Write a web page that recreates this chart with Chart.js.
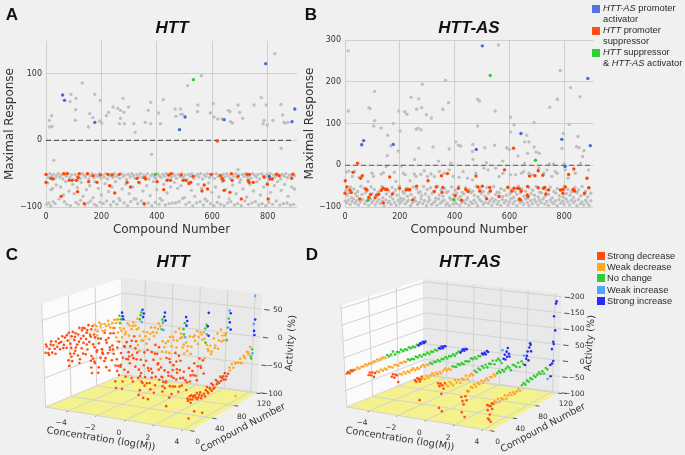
<!DOCTYPE html>
<html>
<head>
<meta charset="utf-8">
<script src="https://cdn.jsdelivr.net/npm/chart.js@4"></script>
<style>
body { margin: 0; background: #f0f0f0; width: 685px; height: 455px; overflow: hidden; position: relative; font-family: "Liberation Sans", sans-serif; color: #222; }
canvas { position: absolute; }
.letter { position: absolute; font-weight: bold; font-size: 17px; transform: translate(-50%, -50%); color: #111; }
.title { position: absolute; font-weight: bold; font-style: italic; font-size: 17px; transform: translate(-50%, -50%); white-space: nowrap; color: #111; }
.legend { position: absolute; font-size: 9.3px; line-height: 11.1px; white-space: nowrap; color: #2a2a2a; }
.patch { position: absolute; width: 8px; height: 8px; }
</style>
</head>
<body>
<canvas id="a" width="300" height="237" style="left:0;top:0"></canvas>
<canvas id="b" width="295" height="237" style="left:300px;top:0"></canvas>
<canvas id="c" width="330" height="215" style="left:0;top:240px"></canvas>
<canvas id="d" width="270" height="215" style="left:330px;top:240px"></canvas>
<script>
"use strict";
// panel A, [compound, max response]
var grayA = [[12,30],[13,20],[22,21],[20,37],[28,-30],[90,69],[87,58],[108,63],[107,46],[106,30],[131,86],[176,69],[158,40],[169,34],[153,20],[196,60],[194,29],[201,26],[218,37],[226,42],[242,50],[259,48],[269,45],[278,63],[281,42],[269,33],[265,25],[283,25],[298,50],[317,25],[322,12],[358,27],[369,45],[378,57],[378,25],[381,-21],[406,41],[413,25],[423,61],[466,47],[469,36],[486,47],[487,39],[493,39],[511,82],[548,53],[547,43],[561,97],[593,41],[604,55],[606,35],[620,32],[635,32],[658,45],[664,43],[666,28],[673,26],[693,53],[699,42],[710,33],[751,53],[777,64],[787,30],[784,25],[795,53],[799,23],[819,30],[826,130],[848,54],[854,38],[849,-12],[859,27],[863,26],[873,27],[693,-44],
[3,-52],[9,-56],[14,-50],[20,-54],[27,-51],[33,-57],[38,-53],[44,-50],[50,-55],[56,-52],[61,-58],[68,-51],[73,-54],[80,-50],[86,-56],[92,-52],[99,-59],[105,-51],[111,-54],[118,-53],[124,-57],[130,-50],[136,-52],[142,-55],[148,-51],[155,-58],[160,-53],[166,-50],[173,-56],[179,-52],[186,-54],[192,-50],[198,-57],[204,-52],[210,-55],[216,-50],[222,-58],[229,-53],[235,-51],[241,-56],[247,-50],[254,-54],[260,-52],[266,-57],[272,-50],[279,-54],[285,-52],[291,-59],[297,-51],[304,-55],[310,-50],[316,-53],[322,-57],[328,-51],[335,-54],[341,-50],[347,-56],[353,-52],[360,-54],[366,-50],[372,-58],[378,-53],[384,-51],[391,-55],[397,-57],[403,-50],[409,-53],[415,-56],[422,-51],[428,-54],[434,-50],[440,-58],[446,-52],[453,-55],[459,-50],[465,-53],[471,-57],[477,-51],[484,-54],[490,-50],[496,-56],[502,-52],[509,-59],[515,-51],[521,-54],[527,-50],[533,-57],[540,-53],[546,-51],[552,-55],[558,-50],[565,-58],[571,-52],[577,-54],[583,-50],[590,-56],[596,-53],[602,-51],[608,-57],[615,-50],[621,-54],[627,-52],[633,-58],[640,-51],[646,-55],[652,-50],[658,-53],[665,-57],[671,-51],[677,-54],[684,-50],[690,-56],[696,-52],[702,-59],[709,-51],[715,-54],[721,-50],[727,-55],[734,-53],[740,-57],[746,-50],[752,-52],[759,-55],[765,-51],[771,-58],[778,-50],[784,-53],[790,-56],[797,-51],[803,-54],[809,-50],[815,-57],[822,-52],[828,-55],[834,-50],[841,-53],[847,-58],[853,-51],[860,-54],[866,-50],[872,-56],[879,-52],[885,-55],[892,-50],[898,-53],
[6,-64],[18,-74],[24,-72],[37,-67],[47,-88],[53,-70],[63,-82],[71,-62],[83,-76],[96,-66],[102,-80],[113,-71],[127,-63],[134,-84],[146,-74],[158,-68],[170,-86],[177,-62],[189,-72],[200,-82],[213,-65],[226,-77],[238,-70],[251,-62],[263,-87],[275,-73],[288,-66],[300,-80],[313,-70],[325,-88],[338,-64],[350,-76],[363,-68],[376,-83],[388,-62],[400,-74],[412,-87],[425,-66],[437,-79],[450,-70],[463,-63],[475,-72],[487,-68],[499,-86],[512,-62],[525,-75],[537,-84],[549,-66],[562,-72],[574,-88],[587,-64],[599,-78],[612,-70],[624,-85],[637,-62],[649,-74],[661,-88],[674,-67],[686,-80],[699,-63],[711,-73],[724,-85],[736,-66],[749,-76],[761,-62],[774,-82],[786,-70],[799,-64],[811,-78],[824,-68],[836,-62],[849,-75],[861,-66],[874,-84],[887,-70],[897,-73],
[2,-96],[10,-94],[17,-98],[26,-92],[33,-95],[66,-92],[75,-96],[88,-98],[108,-93],[117,-96],[125,-90],[141,-97],[152,-94],[161,-91],[174,-96],[183,-98],[195,-93],[207,-95],[219,-91],[233,-97],[244,-92],[256,-96],[267,-90],[282,-94],[294,-98],[306,-92],[318,-88],[331,-95],[344,-91],[356,-97],[369,-94],[382,-98],[395,-93],[408,-96],[419,-90],[431,-97],[444,-95],[456,-94],[468,-94],[480,-92],[493,-87],[505,-96],[517,-93],[530,-98],[543,-94],[556,-92],[568,-97],[581,-91],[594,-95],[606,-98],[618,-93],[630,-96],[643,-98],[655,-94],[667,-92],[680,-97],[692,-95],[705,-98],[718,-91],[730,-96],[743,-94],[756,-92],[768,-97],[780,-95],[793,-98],[805,-93],[818,-96],[831,-91],[844,-97],[857,-95],[870,-94],[882,-97],[894,-96]];
var blueA = [[60,68],[67,60],[176,27],[482,16],[502,35],[643,31],[793,115],[888,28],[898,47],[806,-54]];
var greenA = [[532,91],[395,-51]];
var redA = [[618,-1],[0,-51],[0,-63],[18,-57],[25,-58],[64,-50],[76,-50],[84,-60],[94,-60],[110,-60],[120,-50],[116,-56],[114,-77],[55,-84],[138,-95],[150,-50],[154,-62],[170,-53],[196,-52],[184,-63],[224,-51],[230,-68],[239,-52],[248,-79],[265,-51],[293,-63],[305,-70],[329,-57],[335,-63],[355,-56],[360,-58],[354,-95],[401,-62],[425,-74],[443,-52],[452,-50],[437,-60],[449,-60],[488,-52],[495,-60],[504,-60],[516,-65],[522,-63],[531,-54],[563,-76],[571,-67],[583,-73],[596,-51],[630,-53],[636,-57],[640,-60],[643,-75],[664,-78],[669,-50],[672,-60],[705,-88],[693,-54],[726,-51],[734,-51],[730,-60],[733,-63],[748,-63],[787,-55],[799,-66],[802,-88],[808,-58],[817,-58],[832,-51],[842,-53],[887,-57],[891,-51]];

// panel B
var grayB = [[12,274],[12,130],[108,177],[87,138],[91,136],[108,107],[105,94],[132,89],[156,72],[154,23],[176,100],[196,130],[201,82],[194,34],[167,46],[218,128],[226,122],[241,163],[269,159],[261,134],[280,138],[282,194],[260,86],[266,89],[277,85],[269,41],[297,121],[315,113],[321,44],[254,14],[341,10],[357,134],[367,203],[378,150],[380,39],[386,5],[404,56],[414,48],[422,46],[466,50],[465,33],[467,14],[484,158],[490,154],[484,94],[510,42],[516,6],[560,288],[548,130],[546,48],[576,10],[590,42],[599,38],[604,115],[617,97],[604,80],[631,22],[655,5],[663,72],[656,56],[671,56],[666,29],[690,102],[690,44],[697,32],[708,29],[747,139],[785,227],[775,158],[797,76],[792,40],[818,98],[823,186],[850,69],[845,45],[854,42],[858,164],[867,21],[872,35],[860,5],[800,4],[746,3],[761,3],
[5,-16],[14,-14],[27,-27],[35,-15],[51,-29],[84,-39],[99,-19],[104,-27],[132,-21],[140,-18],[150,-3],[180,-17],[186,-39],[205,-2],[213,-19],[220,-23],[237,-37],[253,-21],[259,-27],[277,-22],[289,-13],[301,-27],[314,-21],[326,-27],[344,-15],[362,-19],[380,-11],[395,-27],[416,-29],[431,-15],[447,-31],[465,-35],[477,-19],[507,-7],[522,-11],[550,-7],[562,-27],[576,-19],[604,-23],[622,-23],[644,-19],[652,-15],[671,-19],[683,-23],[707,-7],[725,-19],[737,-11],[755,-27],[767,-15],[774,-19],[804,-11],[814,-31],[840,-19],[889,-11],
[4,-60],[20,-52],[32,-57],[46,-63],[58,-50],[70,-55],[81,-61],[95,-52],[107,-58],[121,-64],[134,-51],[147,-56],[160,-62],[172,-53],[185,-59],[198,-50],[211,-63],[224,-55],[236,-60],[249,-52],[262,-57],[275,-64],[287,-51],[300,-58],[312,-54],[325,-62],[338,-50],[351,-59],[363,-56],[376,-63],[389,-52],[402,-60],[415,-51],[428,-65],[440,-54],[453,-58],[466,-62],[479,-50],[492,-57],[505,-63],[518,-53],[531,-59],[543,-51],[556,-64],[569,-56],[582,-60],[595,-52],[608,-58],[621,-63],[633,-50],[646,-57],[659,-62],[672,-54],[685,-60],[698,-51],[710,-65],[723,-55],[736,-59],[749,-52],[762,-63],[775,-56],[788,-60],[800,-50],[813,-58],[826,-64],[839,-53],[852,-59],[865,-51],[878,-62],[892,-54],
[8,-72],[15,-66],[24,-78],[38,-68],[44,-74],[62,-70],[75,-66],[88,-77],[99,-68],[113,-73],[125,-67],[138,-78],[151,-69],[165,-75],[177,-66],[190,-72],[203,-79],[216,-67],[228,-74],[241,-70],[254,-78],[268,-66],[279,-73],[293,-69],[306,-76],[318,-67],[331,-79],[344,-71],[357,-74],[370,-66],[382,-78],[395,-70],[408,-67],[421,-75],[434,-69],[447,-78],[459,-66],[472,-72],[485,-76],[498,-68],[511,-74],[524,-67],[537,-79],[550,-70],[563,-66],[575,-75],[589,-72],[602,-68],[615,-77],[627,-70],[640,-66],[653,-74],[666,-79],[679,-68],[692,-72],[705,-76],[717,-66],[730,-74],[743,-70],[756,-78],[769,-67],[782,-73],[795,-76],[808,-68],[821,-72],[834,-78],[847,-66],[860,-73],[873,-70],[886,-76],[897,-67],
[1,-86],[7,-90],[13,-83],[19,-94],[26,-87],[31,-81],[37,-91],[43,-85],[49,-95],[56,-88],[64,-82],[72,-92],[78,-86],[86,-96],[92,-81],[97,-90],[103,-85],[110,-95],[117,-88],[123,-82],[129,-92],[136,-86],[143,-97],[149,-83],[156,-90],[162,-87],[168,-94],[175,-81],[181,-89],[187,-96],[194,-84],[200,-91],[207,-86],[214,-81],[219,-93],[226,-88],[232,-84],[239,-97],[246,-90],[251,-82],[258,-86],[265,-94],[271,-89],[278,-81],[284,-92],[290,-85],[297,-97],[303,-88],[309,-83],[316,-94],[322,-90],[329,-86],[336,-96],[342,-81],[348,-91],[355,-87],[361,-84],[368,-95],[374,-90],[381,-97],[387,-82],[393,-93],[400,-87],[407,-92],[413,-81],[419,-96],[426,-89],[433,-85],[439,-91],[445,-82],[452,-96],[458,-88],[465,-92],[471,-84],[478,-90],[484,-97],[491,-82],[497,-86],[504,-94],[510,-89],[516,-81],[523,-91],[529,-85],[536,-96],[542,-88],[549,-83],[555,-93],[561,-87],[568,-96],[574,-82],[581,-90],[587,-85],[594,-95],[600,-88],[607,-81],[613,-92],[620,-86],[627,-97],[633,-83],[639,-90],[646,-87],[652,-94],[659,-81],[665,-89],[671,-96],[678,-85],[684,-92],[691,-82],[697,-88],[704,-95],[710,-84],[716,-90],[723,-81],[729,-93],[736,-87],[742,-96],[749,-83],[755,-89],[762,-92],[768,-85],[774,-97],[781,-82],[787,-91],[794,-86],[800,-94],[807,-81],[813,-88],[820,-95],[826,-84],[833,-90],[839,-86],[846,-97],[852,-82],[859,-92],[865,-88],[871,-95],[878,-84],[884,-90],[891,-96],[897,-85]];
var blueB = [[61,49],[68,59],[176,50],[479,38],[501,286],[642,76],[791,62],[803,-3],[886,208],[895,47]];
var greenB = [[530,215],[695,12],[84,-84],[397,-82]];
var redB = [[1,-37],[0,-67],[7,-52],[18,-59],[23,-65],[29,-17],[46,5],[57,-31],[63,-25],[54,-81],[76,-57],[80,-59],[87,-77],[93,-70],[110,-78],[116,-71],[122,-70],[139,-55],[148,-58],[154,-58],[132,-60],[140,-90],[163,-28],[173,-69],[199,-55],[223,-59],[230,-58],[236,-58],[247,-83],[261,-50],[303,-37],[326,-63],[333,-52],[352,-25],[354,-65],[357,-53],[374,-20],[402,-73],[414,-55],[425,-84],[441,-58],[449,-63],[478,-26],[485,-52],[492,-62],[501,-50],[528,-53],[530,-62],[517,-80],[562,-75],[582,-11],[594,-53],[609,-62],[615,41],[617,-55],[630,-55],[636,-56],[637,-81],[640,-83],[643,-62],[665,-71],[668,-75],[666,-51],[673,-26],[693,-25],[705,-13],[705,-54],[722,-24],[725,-55],[729,-53],[733,-69],[743,-59],[786,-59],[795,-67],[795,-58],[804,-52],[816,-22],[835,-9],[832,-58],[835,-59],[838,-62],[874,-67],[883,-31],[889,-54]];

var xTicks2d = [0, 200, 400, 600, 800];
var concTicks = [-4, -2, 0, 2, 4];
var compoundTicks = [0, 40, 80, 120];
var activityTicksC = [-100, -50, 0, 50];
var activityTicksD = [-100, -50, 0, 50, 100, 150, 200];

// panels C and D: one list per tested concentration, [compound, activity %]
var concLevels = [-5.5, -4, -2.4, -0.8, 0.8, 2.4, 4.2];
var classNames = ["Strong decrease", "Weak decrease", "No change", "Weak increase", "Strong increase"];
var classColors = ["#ff4e12", "#ffa726", "#32cd32", "#4da6ff", "#2a2aff"];
var classStartC = [0, 76, 114, 117, 118];
var classStartD = [0, 14, 61, 108, 110];

var httRows = [
  [[1,-6],[3,4],[5,-8],[7,-2],[9,5],[11,-10],[13,2],[15,-5],[17,7],[19,-3],[21,10],[23,-9],[25,3],[27,12],[29,-4],[31,8],[33,-11],[35,1],[37,14],[39,-6],[41,6],[43,13],[45,-2],[47,9],[49,-12],[51,5],[53,16],[55,-4],[57,10],[59,-1],[61,12],[63,-8],[65,7],[67,15],[69,-3],[71,6],[73,11],[75,-5],[77,3],[79,8],[81,-2],[83,13],[85,5],[88,-4],[91,7],[94,2],[97,10],[100,-3],[103,4],[106,8],[109,1],[112,6],[114,12],[115,-2],[116,5],[118,16],[119,9],[120,3],[2,8],[6,-12],[10,10],[16,-14],[22,2],[28,-9],[34,11],[40,-14],[46,3],[52,-8],[58,14],[64,3],[70,-7],[76,12],[80,-9],[86,9],[92,-5],[98,3],[104,-6],[110,7]],
  [[2,-14],[5,-4],[8,-18],[11,-6],[14,3],[17,-12],[20,-20],[23,-2],[26,6],[29,-15],[32,-8],[35,4],[38,-22],[41,-3],[44,8],[47,-16],[50,-5],[53,2],[56,-26],[59,10],[62,-9],[65,-2],[68,5],[71,-18],[74,12],[77,-6],[80,1],[83,8],[86,-10],[89,4],[92,-3],[95,11],[98,6],[101,-2],[104,9],[107,2],[110,13],[112,-5],[114,10],[115,17],[116,22],[117,4],[118,26],[119,12],[120,18],[3,-24],[7,-10],[13,-2],[19,-26],[25,-12],[31,1],[37,-30],[43,-9],[49,4],[55,-18],[61,-4],[67,-24],[73,3],[79,-14],[85,2],[91,-7],[97,-12],[103,3],[109,-6]],
  [[1,-20],[4,-6],[7,-15],[10,3],[13,-25],[16,-10],[19,-2],[22,-18],[25,-30],[28,-7],[31,2],[34,-22],[37,-12],[40,-34],[43,-4],[46,5],[49,-16],[52,-26],[55,-8],[58,-1],[61,-20],[64,-11],[67,-28],[70,4],[73,-6],[76,-14],[79,1],[82,-9],[85,6],[88,-4],[91,2],[94,-12],[97,8],[100,-2],[103,5],[106,-6],[109,10],[112,3],[114,-3],[115,14],[116,8],[117,-6],[118,18],[119,25],[120,10],[2,-30],[6,-12],[12,-34],[18,4],[24,-14],[30,-38],[36,-4],[42,-24],[48,-40],[54,-6],[60,-32],[66,-2],[72,-18],[78,-26],[84,-10],[90,-18],[96,-3],[102,-10],[108,0]],
  [[2,-38],[5,-22],[8,-30],[11,-14],[14,-44],[17,-25],[20,-8],[23,-32],[26,-18],[29,-45],[32,-12],[35,-28],[38,-5],[41,-36],[44,-20],[47,-62],[50,-10],[53,-26],[56,-40],[59,-68],[62,-15],[65,-30],[68,-5],[71,-22],[74,-12],[77,-34],[80,-4],[83,-16],[86,-26],[89,-8],[92,-2],[95,-20],[98,-10],[101,3],[104,-14],[107,6],[110,-4],[112,-12],[114,2],[115,-8],[116,12],[117,-14],[118,22],[119,6],[120,14],[3,-50],[7,-14],[13,-56],[19,-38],[25,-6],[31,-52],[37,-16],[43,-48],[49,-32],[55,-8],[61,-44],[67,-20],[73,-40],[79,-22],[85,-10],[91,-30],[97,-4],[103,-26],[109,-12]],
  [[1,-26],[4,-48],[7,-35],[10,-64],[13,-30],[16,-42],[19,-22],[22,-55],[25,-28],[28,-64],[31,-38],[34,-18],[37,-46],[40,-26],[43,-60],[46,-34],[49,-14],[52,-40],[55,-24],[58,-50],[61,-32],[64,-12],[67,-42],[70,-20],[73,-30],[76,-8],[79,-20],[82,-2],[85,-10],[88,6],[91,-14],[94,2],[97,-6],[100,10],[103,-2],[106,5],[109,-10],[112,2],[113,-10],[114,8],[115,-18],[116,14],[117,-4],[118,10],[119,34],[120,-8],[2,-55],[6,-20],[12,-44],[18,-70],[24,-36],[30,-52],[36,-28],[42,-44],[48,-56],[54,-18],[60,-40],[66,-28],[72,-46],[78,-4],[84,-18],[90,-26],[96,4],[102,-14],[108,0]],
  [[1,-18],[4,-28],[7,-40],[10,-72],[13,-22],[16,-41],[19,-56],[22,-30],[25,-46],[28,-24],[31,-58],[34,-36],[37,-50],[40,-28],[43,-44],[46,-49],[49,-26],[52,-40],[55,-34],[58,-22],[61,-45],[64,-30],[67,-18],[70,-36],[73,-24],[76,-22],[79,0],[82,-12],[85,-4],[88,-16],[91,6],[94,-8],[97,12],[100,-2],[103,16],[106,4],[109,-6],[112,5],[114,-8],[115,14],[116,30],[117,44],[118,22],[119,38],[120,8],[3,-44],[9,-30],[15,-60],[21,-44],[27,-35],[33,-50],[39,-38],[45,-62],[51,-50],[57,-42],[63,-54],[69,-32],[75,-48],[81,-8],[87,-20],[93,-12],[99,-16],[105,-6],[111,2]],
  [[1,-48],[4,-83],[6,-52],[8,-46],[11,-50],[14,-76],[16,-54],[18,-47],[21,-56],[24,-49],[26,-60],[29,-86],[31,-55],[34,-50],[36,-46],[39,-58],[42,-52],[44,-44],[47,-48],[50,-54],[52,-42],[55,-46],[58,-50],[60,-40],[63,-44],[66,-48],[68,-38],[71,-45],[74,-42],[77,-38],[80,-28],[83,-36],[86,-30],[89,-89],[92,-32],[95,-26],[98,-36],[101,-24],[104,-30],[107,-20],[110,-26],[112,-14],[114,-32],[115,-36],[116,-20],[117,-28],[118,12],[119,4],[117,75],[119,32],[117,25],[2,-52],[5,-46],[7,-58],[10,-54],[13,-49],[15,-50],[19,-58],[22,-52],[27,-56],[33,-60],[37,-54],[41,-50],[45,-57],[48,-55],[54,-50],[61,-48],[65,-42],[70,-50],[76,-32],[88,-30],[96,-34],[103,-28],[109,-22]]
];

var httAsRows = [
  [[1,2],[3,6],[5,0],[7,7],[9,3],[11,5],[14,4],[17,8],[20,3],[23,6],[26,5],[29,9],[32,4],[35,7],[38,5],[41,8],[44,6],[47,10],[50,6],[53,8],[56,9],[59,7],[62,12],[65,6],[68,9],[71,16],[74,5],[77,10],[80,7],[83,13],[86,6],[89,9],[92,5],[95,11],[98,6],[101,8],[104,4],[107,9],[110,5],[112,10],[114,7],[116,12],[118,6],[120,9]],
  [[1,8],[3,14],[5,4],[7,11],[9,-4],[11,6],[14,9],[17,5],[20,10],[23,4],[26,8],[29,3],[32,9],[35,6],[38,2],[41,8],[44,5],[47,1],[50,7],[53,4],[56,6],[59,2],[62,8],[65,3],[68,5],[71,1],[74,7],[77,2],[80,6],[83,-1],[86,4],[89,1],[92,5],[95,-2],[98,3],[101,0],[104,4],[107,-1],[110,5],[112,1],[114,6],[116,-1],[118,4],[120,2]],
  [[1,14],[3,20],[5,8],[7,16],[9,12],[11,-10],[14,12],[17,8],[20,13],[23,6],[26,10],[29,5],[32,9],[35,12],[38,4],[41,8],[44,3],[47,7],[50,10],[53,2],[56,6],[59,3],[62,7],[65,1],[68,5],[71,2],[74,6],[77,-1],[80,4],[83,1],[86,5],[89,-2],[92,3],[95,0],[98,4],[101,-3],[104,2],[107,5],[110,-1],[112,3],[114,6],[116,0],[118,4],[120,1]],
  [[1,14],[3,8],[5,18],[7,12],[8,-52],[9,4],[10,10],[12,16],[14,9],[17,5],[20,11],[23,3],[26,8],[29,12],[32,4],[35,9],[38,2],[41,6],[44,-1],[47,5],[50,9],[53,1],[56,4],[59,-2],[62,6],[65,2],[68,-1],[71,5],[74,0],[77,3],[80,-3],[83,4],[86,1],[89,-2],[92,5],[95,0],[98,3],[101,-4],[104,2],[107,-1],[110,5],[112,0],[114,4],[116,-3],[118,6],[120,1]],
  [[1,16],[2,-59],[3,6],[5,12],[6,-20],[7,-74],[8,4],[10,-8],[12,8],[14,2],[17,-6],[20,4],[23,-4],[26,-12],[29,2],[32,-8],[35,-2],[38,-14],[41,-4],[44,-10],[47,0],[50,-13],[53,-6],[56,-2],[59,-9],[62,2],[65,-5],[68,4],[71,-3],[74,6],[77,-2],[80,5],[83,-6],[86,3],[89,-1],[92,7],[95,-7],[98,2],[101,5],[104,-3],[107,-14],[108,26],[110,-3],[112,8],[113,-8],[115,15],[116,-2],[117,25],[119,5],[120,-5]],
  [[1,-14],[2,-61],[3,-28],[5,-40],[7,-80],[8,-18],[10,-32],[12,-6],[14,-8],[17,2],[20,-3],[23,5],[26,-5],[29,3],[32,-2],[35,6],[38,-3],[41,1],[44,5],[47,-4],[50,3],[53,0],[56,6],[59,-2],[62,4],[65,8],[68,1],[71,6],[74,-1],[77,5],[80,9],[83,2],[86,-8],[89,6],[92,1],[95,-6],[98,4],[101,-12],[104,3],[107,-8],[108,18],[110,-14],[112,4],[114,25],[116,-5],[117,35],[118,47],[119,42],[120,20],[113,12]],
  [[1,-26],[2,-42],[3,-68],[4,-30],[5,-74],[6,-59],[7,-35],[8,-83],[9,-28],[10,-46],[12,-32],[14,-26],[17,-32],[20,-24],[23,-36],[26,-28],[29,-34],[32,-25],[35,-38],[38,-30],[41,-26],[44,-35],[47,-29],[50,-37],[53,-32],[56,-27],[59,-36],[62,-22],[65,-18],[68,-25],[71,-16],[74,-22],[77,-14],[80,-20],[83,-12],[86,-19],[89,-15],[92,-10],[95,-18],[98,-12],[101,-22],[104,-8],[107,-15],[108,-46],[112,-6],[113,-42],[115,-4],[117,2],[114,42],[117,55],[116,63],[119,96],[116,143],[119,180],[120,186]]
];

// corners of the 3d box as seen on each canvas: floor then top, front left, front right, back right, back left
var boxC = { floor: [[44,168],[190,192],[258,153],[123,135]], top: [[40,64],[193,84],[263,53],[123,37]], zMin: -100, zMax: 78 };
var boxD = { floor: [[15,168],[160,192],[230,153],[95,135]], top: [[9,65],[163,88],[233,53],[95,38]], zMin: -100, zMax: 210 };
var concMin = -5.6, concMax = 4.5, compoundMin = -1, compoundMax = 122;
var mono = "'DejaVu Sans', sans-serif";
var minus = function(v) { return String(v).replace("-", "\u2212"); };

function mix(p, q, t) { return [p[0] + (q[0] - p[0]) * t, p[1] + (q[1] - p[1]) * t]; }

function project(box, conc, compound, z) {
    var u = (conc - concMin) / (concMax - concMin);
    var v = (compound - compoundMin) / (compoundMax - compoundMin);
    var w = (z - box.zMin) / (box.zMax - box.zMin);
    var low = mix(mix(box.floor[0], box.floor[1], u), mix(box.floor[3], box.floor[2], u), v);
    var high = mix(mix(box.top[0], box.top[1], u), mix(box.top[3], box.top[2], u), v);
    var p = mix(low, high, w);
    return { x: p[0], y: p[1] };
}

function toPoints(list) {
    return list.map(function(p) { return { x: p[0], y: p[1] }; });
}

function dots(list, color, radius) {
    return { data: toPoints(list), backgroundColor: color, pointRadius: radius, pointHoverRadius: radius, borderWidth: 0, pointBorderWidth: 0, clip: false };
}

function scatter2d(id, gray, red, blue, green, yMax, top, left, right) {
    var zeroLine = { data: [{ x: 0, y: 0 }, { x: 893, y: 0 }], showLine: true, pointRadius: 0, borderColor: "#555", borderWidth: 1.2, borderDash: [5, 3] };
    return new Chart(document.getElementById(id), {
        type: "scatter",
        data: { datasets: [dots(green, "#32cd32", 1.7), dots(blue, "#4169e1", 1.7), dots(red, "#ff4500", 1.7), zeroLine, dots(gray, "#bfbfbf", 1.7)] },
        options: {
            responsive: false,
            animation: false,
            layout: { padding: { top: top, right: right } },
            plugins: { legend: { display: false }, tooltip: { enabled: false } },
            scales: {
                x: {
                    min: 0, max: 906,
                    afterBuildTicks: function(s) { s.ticks = xTicks2d.map(function(v) { return { value: v }; }); },
                    afterFit: function(s) { s.height = 30; },
                    grid: { color: "#cfcfcf", lineWidth: 1, drawTicks: false },
                    border: { display: false },
                    ticks: { font: { family: mono, size: 8 }, color: "#333", padding: 5, maxRotation: 0 },
                    title: { display: true, text: "Compound Number", font: { family: mono, size: 12 }, color: "#333", padding: { top: 0, bottom: 0 } }
                },
                y: {
                    min: -100, max: yMax,
                    afterFit: function(s) { s.width = left; },
                    grid: { color: "#cfcfcf", lineWidth: 1, drawTicks: false },
                    border: { display: false },
                    ticks: { stepSize: 100, includeBounds: false, font: { family: mono, size: 8 }, color: "#333", padding: 4, callback: minus },
                    title: { display: true, text: "Maximal Response", font: { family: mono, size: 12 }, color: "#333", padding: { top: 3, bottom: 0 } }
                }
            }
        }
    });
}

function line3d(ctx, chart, box, from, to, color, width) {
    var a = project(box, from[0], from[1], from[2]);
    var b = project(box, to[0], to[1], to[2]);
    ctx.beginPath();
    ctx.moveTo(chart.scales.x.getPixelForValue(a.x), chart.scales.y.getPixelForValue(a.y));
    ctx.lineTo(chart.scales.x.getPixelForValue(b.x), chart.scales.y.getPixelForValue(b.y));
    ctx.strokeStyle = color;
    ctx.lineWidth = width;
    ctx.stroke();
}

function face(ctx, chart, box, corners, color) {
    ctx.beginPath();
    corners.forEach(function(c, i) {
        var p = project(box, c[0], c[1], c[2]);
        var x = chart.scales.x.getPixelForValue(p.x), y = chart.scales.y.getPixelForValue(p.y);
        if (i === 0) { ctx.moveTo(x, y); } else { ctx.lineTo(x, y); }
    });
    ctx.closePath();
    ctx.fillStyle = color;
    ctx.fill();
}

function label(ctx, text, x, y, size, angle, color, align) {
    ctx.save();
    ctx.translate(x, y);
    ctx.rotate(angle * Math.PI / 180);
    ctx.font = size + "px " + mono;
    ctx.fillStyle = color;
    ctx.textAlign = align || "center";
    ctx.textBaseline = "middle";
    ctx.fillText(text, 0, 0);
    ctx.restore();
}

function boxPlugin(box, zTicks, axisLabels) {
    var gridColor = "#d2d2d2";
    return {
        id: "box3d",
        beforeDatasetsDraw: function(chart) {
            var ctx = chart.ctx, lo = box.zMin, hi = box.zMax;
            face(ctx, chart, box, [[concMin, compoundMin, lo], [concMin, compoundMax, lo], [concMin, compoundMax, hi], [concMin, compoundMin, hi]], "#fbfbfb");
            face(ctx, chart, box, [[concMin, compoundMax, lo], [concMax, compoundMax, lo], [concMax, compoundMax, hi], [concMin, compoundMax, hi]], "#e9e9e9");
            face(ctx, chart, box, [[concMin, compoundMin, lo], [concMax, compoundMin, lo], [concMax, compoundMax, lo], [concMin, compoundMax, lo]], "#f4f28c");
            concTicks.forEach(function(c) {
                line3d(ctx, chart, box, [c, compoundMin, lo], [c, compoundMax, lo], gridColor, 1);
                line3d(ctx, chart, box, [c, compoundMax, lo], [c, compoundMax, hi], gridColor, 1);
                var p = project(box, c, compoundMin, lo);
                line3d(ctx, chart, box, [c, compoundMin, lo], [c, compoundMin - 2, lo], "#555", 1);
                label(ctx, minus(c), p.x - 6, p.y + 11.5, 7.5, 0, "#333");
            });
            compoundTicks.forEach(function(n) {
                line3d(ctx, chart, box, [concMin, n, lo], [concMax, n, lo], gridColor, 1);
                line3d(ctx, chart, box, [concMin, n, lo], [concMin, n, hi], gridColor, 1);
                var p = project(box, concMax, n, lo);
                line3d(ctx, chart, box, [concMax, n, lo], [concMax + 0.3, n, lo], "#555", 1);
                label(ctx, String(n), p.x + 7, p.y + 10.5, 7.5, 0, "#333");
            });
            zTicks.forEach(function(z) {
                line3d(ctx, chart, box, [concMin, compoundMin, z], [concMin, compoundMax, z], gridColor, 1);
                line3d(ctx, chart, box, [concMin, compoundMax, z], [concMax, compoundMax, z], gridColor, 1);
                var p = project(box, concMax, compoundMax, z);
                line3d(ctx, chart, box, [concMax + 0.2, compoundMax, z], [concMax + 0.6, compoundMax, z], "#555", 1);
                label(ctx, minus(z), box.floor[2][0] + 24.5, p.y + 1, 7.5, 0, "#333", "right");
            });
            axisLabels.forEach(function(a) { label(ctx, a[0], a[1], a[2], a[3], a[4], "#333"); });
        }
    };
}

function scatter3d(id, rows, box, classStart, zTicks, axisLabels, w, h) {
    var groups = classStart.map(function() { return []; });
    rows.forEach(function(row, r) {
        row.forEach(function(p) {
            var k = classStart.length - 1;
            while (p[0] < classStart[k]) { k--; }
            groups[k].push(project(box, concLevels[r], p[0], p[1]));
        });
    });
    var datasets = groups.map(function(points, k) {
        return { label: classNames[k], data: points, backgroundColor: classColors[k], pointRadius: 1.3, pointHoverRadius: 1.3, borderWidth: 0, pointBorderWidth: 0 };
    }).reverse();
    return new Chart(document.getElementById(id), {
        type: "scatter",
        data: { datasets: datasets },
        plugins: [boxPlugin(box, zTicks, axisLabels)],
        options: {
            responsive: false,
            animation: false,
            plugins: { legend: { display: false }, tooltip: { enabled: false } },
            scales: {
                x: { display: false, min: 0, max: w },
                y: { display: false, min: 0, max: h, reverse: true }
            }
        }
    });
}

function text(cls, html, x, y) {
    var el = document.createElement("div");
    el.className = cls;
    el.innerHTML = html;
    el.style.left = x + "px";
    el.style.top = y + "px";
    document.body.appendChild(el);
}

function patch(color, x, y) {
    var el = document.createElement("div");
    el.className = "patch";
    el.style.background = color;
    el.style.left = x + "px";
    el.style.top = y + "px";
    document.body.appendChild(el);
}

scatter2d("a", grayA, redA, blueA, greenA, 149, 41, 46, 3);
scatter2d("b", grayB, redB, blueB, greenB, 300, 40, 45, 0);
scatter3d("c", httRows, boxC, classStartC, activityTicksC, [["Concentration (log(M))", 101, 199, 9.7, 9], ["Compound Number", 243, 188, 9.7, -28], ["Activity (%)", 291, 103, 9.7, -86]], 330, 215);
scatter3d("d", httAsRows, boxD, classStartD, activityTicksD, [["Concentration (log(M))", 70, 199, 9.7, 9], ["Compound Number", 213, 188, 9.7, -28], ["Activity (%)", 260, 103, 9.7, -86]], 270, 215);

text("letter", "A", 12, 15);
text("letter", "B", 311, 15);
text("letter", "C", 12, 255);
text("letter", "D", 312, 255);
text("title", "HTT", 172, 28);
text("title", "HTT-AS", 469, 28);
text("title", "HTT", 173, 262);
text("title", "HTT-AS", 470, 262);

patch("#4f73e0", 592, 5);
text("legend", "<i>HTT-AS</i> promoter<br>activator", 603, 3);
patch("#ff5010", 592, 27);
text("legend", "<i>HTT</i> promoter<br>suppressor", 603, 25);
patch("#32cd32", 592, 49);
text("legend", "<i>HTT</i> suppressor<br>&amp; <i>HTT-AS</i> activator", 603, 47);

classNames.forEach(function(name, k) {
    var y = [252, 263, 274, 286, 297][k];
    patch(classColors[k], 597, y);
    text("legend", name, 607, y - 1.5);
});
</script>
</body>
</html>
